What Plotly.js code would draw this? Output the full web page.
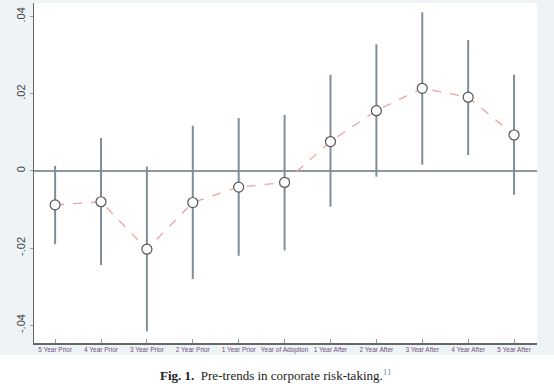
<!DOCTYPE html>
<html><head><meta charset="utf-8">
<script src="https://cdn.plot.ly/plotly-3.0.1.min.js"></script>
<style>html,body{margin:0;padding:0;background:#fff;}#chart{width:554px;height:384px;}</style>
</head><body><div id="chart"></div>
<script>
var categories = ["5 Year Prior","4 Year Prior","3 Year Prior","2 Year Prior","1 Year Prior","Year of Adoption","1 Year After","2 Year After","3 Year After","4 Year After","5 Year After"];
var coef   = [-0.0088, -0.0080, -0.0203, -0.0082, -0.0042, -0.0030, 0.0076, 0.0156, 0.0214, 0.0191, 0.0093];
var ciLow  = [-0.0190, -0.0244, -0.0416, -0.0280, -0.0220, -0.0206, -0.0093, -0.0015, 0.0016, 0.0041, -0.0062];
var ciHigh = [0.0013, 0.0085, 0.0011, 0.0117, 0.0137, 0.0145, 0.0249, 0.0328, 0.0411, 0.0339, 0.0249];
var yTickVals = [-0.04, -0.02, 0, 0.02, 0.04];
var yTickText = ["-.04", "-.02", "0", ".02", ".04"];
var caption = "<b>Fig. 1.</b>  Pre-trends in corporate risk-taking.<sup><span style='color:#6a8fc0'>11</span></sup>";

var plus = coef.map(function(v,i){return ciHigh[i]-v;});
var minus = coef.map(function(v,i){return v-ciLow[i];});

var ci = {
  x: categories, y: coef, type: 'scatter', mode: 'markers',
  marker: {size: 0.1, color: 'rgba(0,0,0,0)'},
  error_y: {type: 'data', symmetric: false, array: plus, arrayminus: minus, width: 0, thickness: 2, color: '#7f8d99'},
  showlegend: false, hoverinfo: 'skip'
};
var line = {
  x: categories, y: coef, type: 'scatter', mode: 'lines+markers',
  line: {dash: 'dash', color: '#e9a3a3', width: 1.3},
  marker: {symbol: 'circle', size: 10, color: '#ffffff', line: {color: '#555555', width: 1.2}},
  showlegend: false
};

var layout = {
  width: 554, height: 384,
  margin: {l: 34, r: 17, t: 3, b: 41},
  paper_bgcolor: '#eef3f6',
  plot_bgcolor: '#ffffff',
  showlegend: false,
  xaxis: {
    type: 'category', range: [-0.46, 10.5],
    showline: true, linecolor: '#666', linewidth: 1.5, mirror: false,
    showgrid: false, zeroline: false,
    ticks: 'inside', ticklen: 4, tickcolor: '#999', tickwidth: 1,
    tickfont: {family: 'Liberation Sans, Arial, sans-serif', size: 6.5, color: '#6e4f82'},
    tickangle: 0
  },
  yaxis: {
    range: [-0.0446, 0.0435],
    tickvals: yTickVals, ticktext: yTickText,
    tickangle: -90,
    showline: true, linecolor: '#666', linewidth: 1.5,
    showgrid: false,
    zeroline: true, zerolinecolor: '#8d979e', zerolinewidth: 1.5,
    ticks: 'outside', ticklen: 3, tickcolor: '#999',
    tickfont: {family: 'Liberation Sans, Arial, sans-serif', size: 11, color: '#444'}
  },
  shapes: [{
    type: 'rect', xref: 'paper', yref: 'paper', layer: 'below',
    x0: -0.1, x1: 1.1, y0: -41/340, y1: -12/340 - 0.0,
    yanchor: 0, ysizemode: 'scaled',
    fillcolor: '#ffffff', line: {width: 0}
  }],
  annotations: [{
    xref: 'paper', yref: 'paper', x: (276-34)/503, y: -(375-343)/340,
    xanchor: 'center', yanchor: 'middle', showarrow: false,
    text: caption,
    font: {family: 'Liberation Serif, Times New Roman, serif', size: 13, color: '#222'}
  }]
};
layout.shapes[0].y0 = -0.2;
layout.shapes[0].y1 = -(355-343)/340;

Plotly.newPlot('chart', [ci, line], layout, {displayModeBar: false, staticPlot: true});
</script></body></html>
